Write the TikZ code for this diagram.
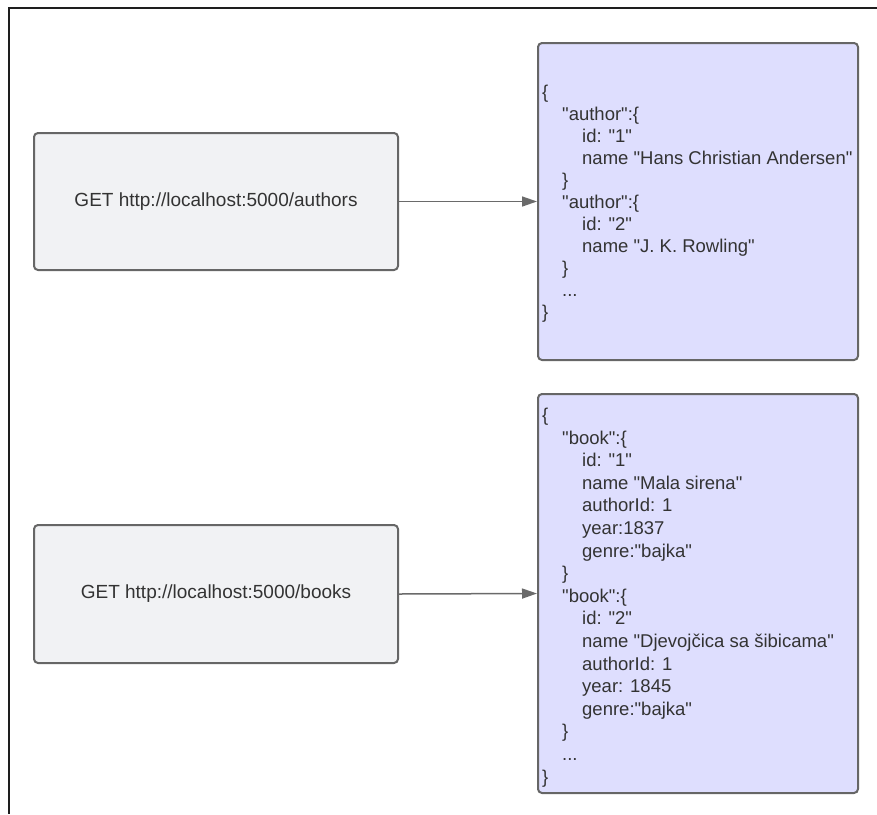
\documentclass[tikz,border=0pt]{standalone}
\usepackage{fontspec}
\setmainfont{Liberation Sans}[Ligatures=TeXOff]
\usetikzlibrary{arrows.meta}
\definecolor{frameC}{HTML}{1E1E1E}
\definecolor{reqFill}{HTML}{F1F2F4}
\definecolor{jsonFill}{HTML}{DEDEFE}
\definecolor{boxLine}{HTML}{666666}
\definecolor{txtC}{HTML}{333333}
\definecolor{arrC}{HTML}{6A6A6A}
\tikzset{
  reqbox/.style={draw=boxLine, line width=2pt, fill=reqFill, rounded corners=4pt,
    minimum width=364pt, minimum height=137pt, inner sep=0pt, text=txtC,
    font=\fontsize{19}{22.5}\selectfont},
  jsonbox/.style={draw=boxLine, line width=2pt, fill=jsonFill, rounded corners=4pt,
    minimum width=320pt, inner sep=0pt},
  jsontext/.style={anchor=west, align=left, inner sep=0pt, text=txtC,
    font=\fontsize{18.5}{22.6}\selectfont},
  conn/.style={draw=arrC, line width=1.5pt, -{Triangle[length=15pt,width=10pt]}},
  frameline/.style={draw=frameC, line width=2pt}
}
\newcommand{\ia}{\hspace*{20pt}}
\newcommand{\ib}{\hspace*{40pt}}
\begin{document}
\begin{tikzpicture}[x=1pt,y=-1pt]
\useasboundingbox (0,0) rectangle (877,814);
% frame lines
\coordinate (fTR) at (877,7.5);
\coordinate (fTL) at (8.5,7.5);
\coordinate (fBL) at (8.5,814);
\draw[frameline] (fTR) -- (fTL) -- (fBL);

% request boxes
\node[reqbox] (reqA) at (216,201.5) {GET http://localhost:5000/authors};
\node[reqbox, minimum height=138pt] (reqB) at (216,594) {GET http://localhost:5000/books};

% json boxes
\node[jsonbox, minimum height=317pt] (jsA) at (698,201.5) {};
\node[jsonbox, minimum height=399pt] (jsB) at (698,593.5) {};

\node[jsontext, font=\fontsize{18.5}{22}\selectfont] (tA) at ([xshift=5pt,yshift=-2pt]jsA.west) {%
{\char`\{}\\
\ia"author":{\char`\{}\\
\ib id: "1"\\
\ib name "Hans Christian Andersen"\\
\ia{\char`\}}\\
\ia"author":{\char`\{}\\
\ib id: "2"\\
\ib name "J. K. Rowling"\\
\ia{\char`\}}\\
\ia...\\
{\char`\}}};

\node[jsontext] (tB) at ([xshift=5pt,yshift=-4pt]jsB.west) {%
{\char`\{}\\
\ia"book":{\char`\{}\\
\ib id: "1"\\
\ib name "Mala sirena"\\
\ib authorId: 1\\
\ib year:1837\\
\ib genre:"bajka"\\
\ia{\char`\}}\\
\ia"book":{\char`\{}\\
\ib id: "2"\\
\ib name "Djevojčica sa šibicama"\\
\ib authorId: 1\\
\ib year: 1845\\
\ib genre:"bajka"\\
\ia{\char`\}}\\
\ia...\\
{\char`\}}};

% connectors
\draw[conn] (reqA.east) -- (jsA.west);
\draw[conn] (reqB.east) -- (jsB.west);
\end{tikzpicture}
\end{document}
